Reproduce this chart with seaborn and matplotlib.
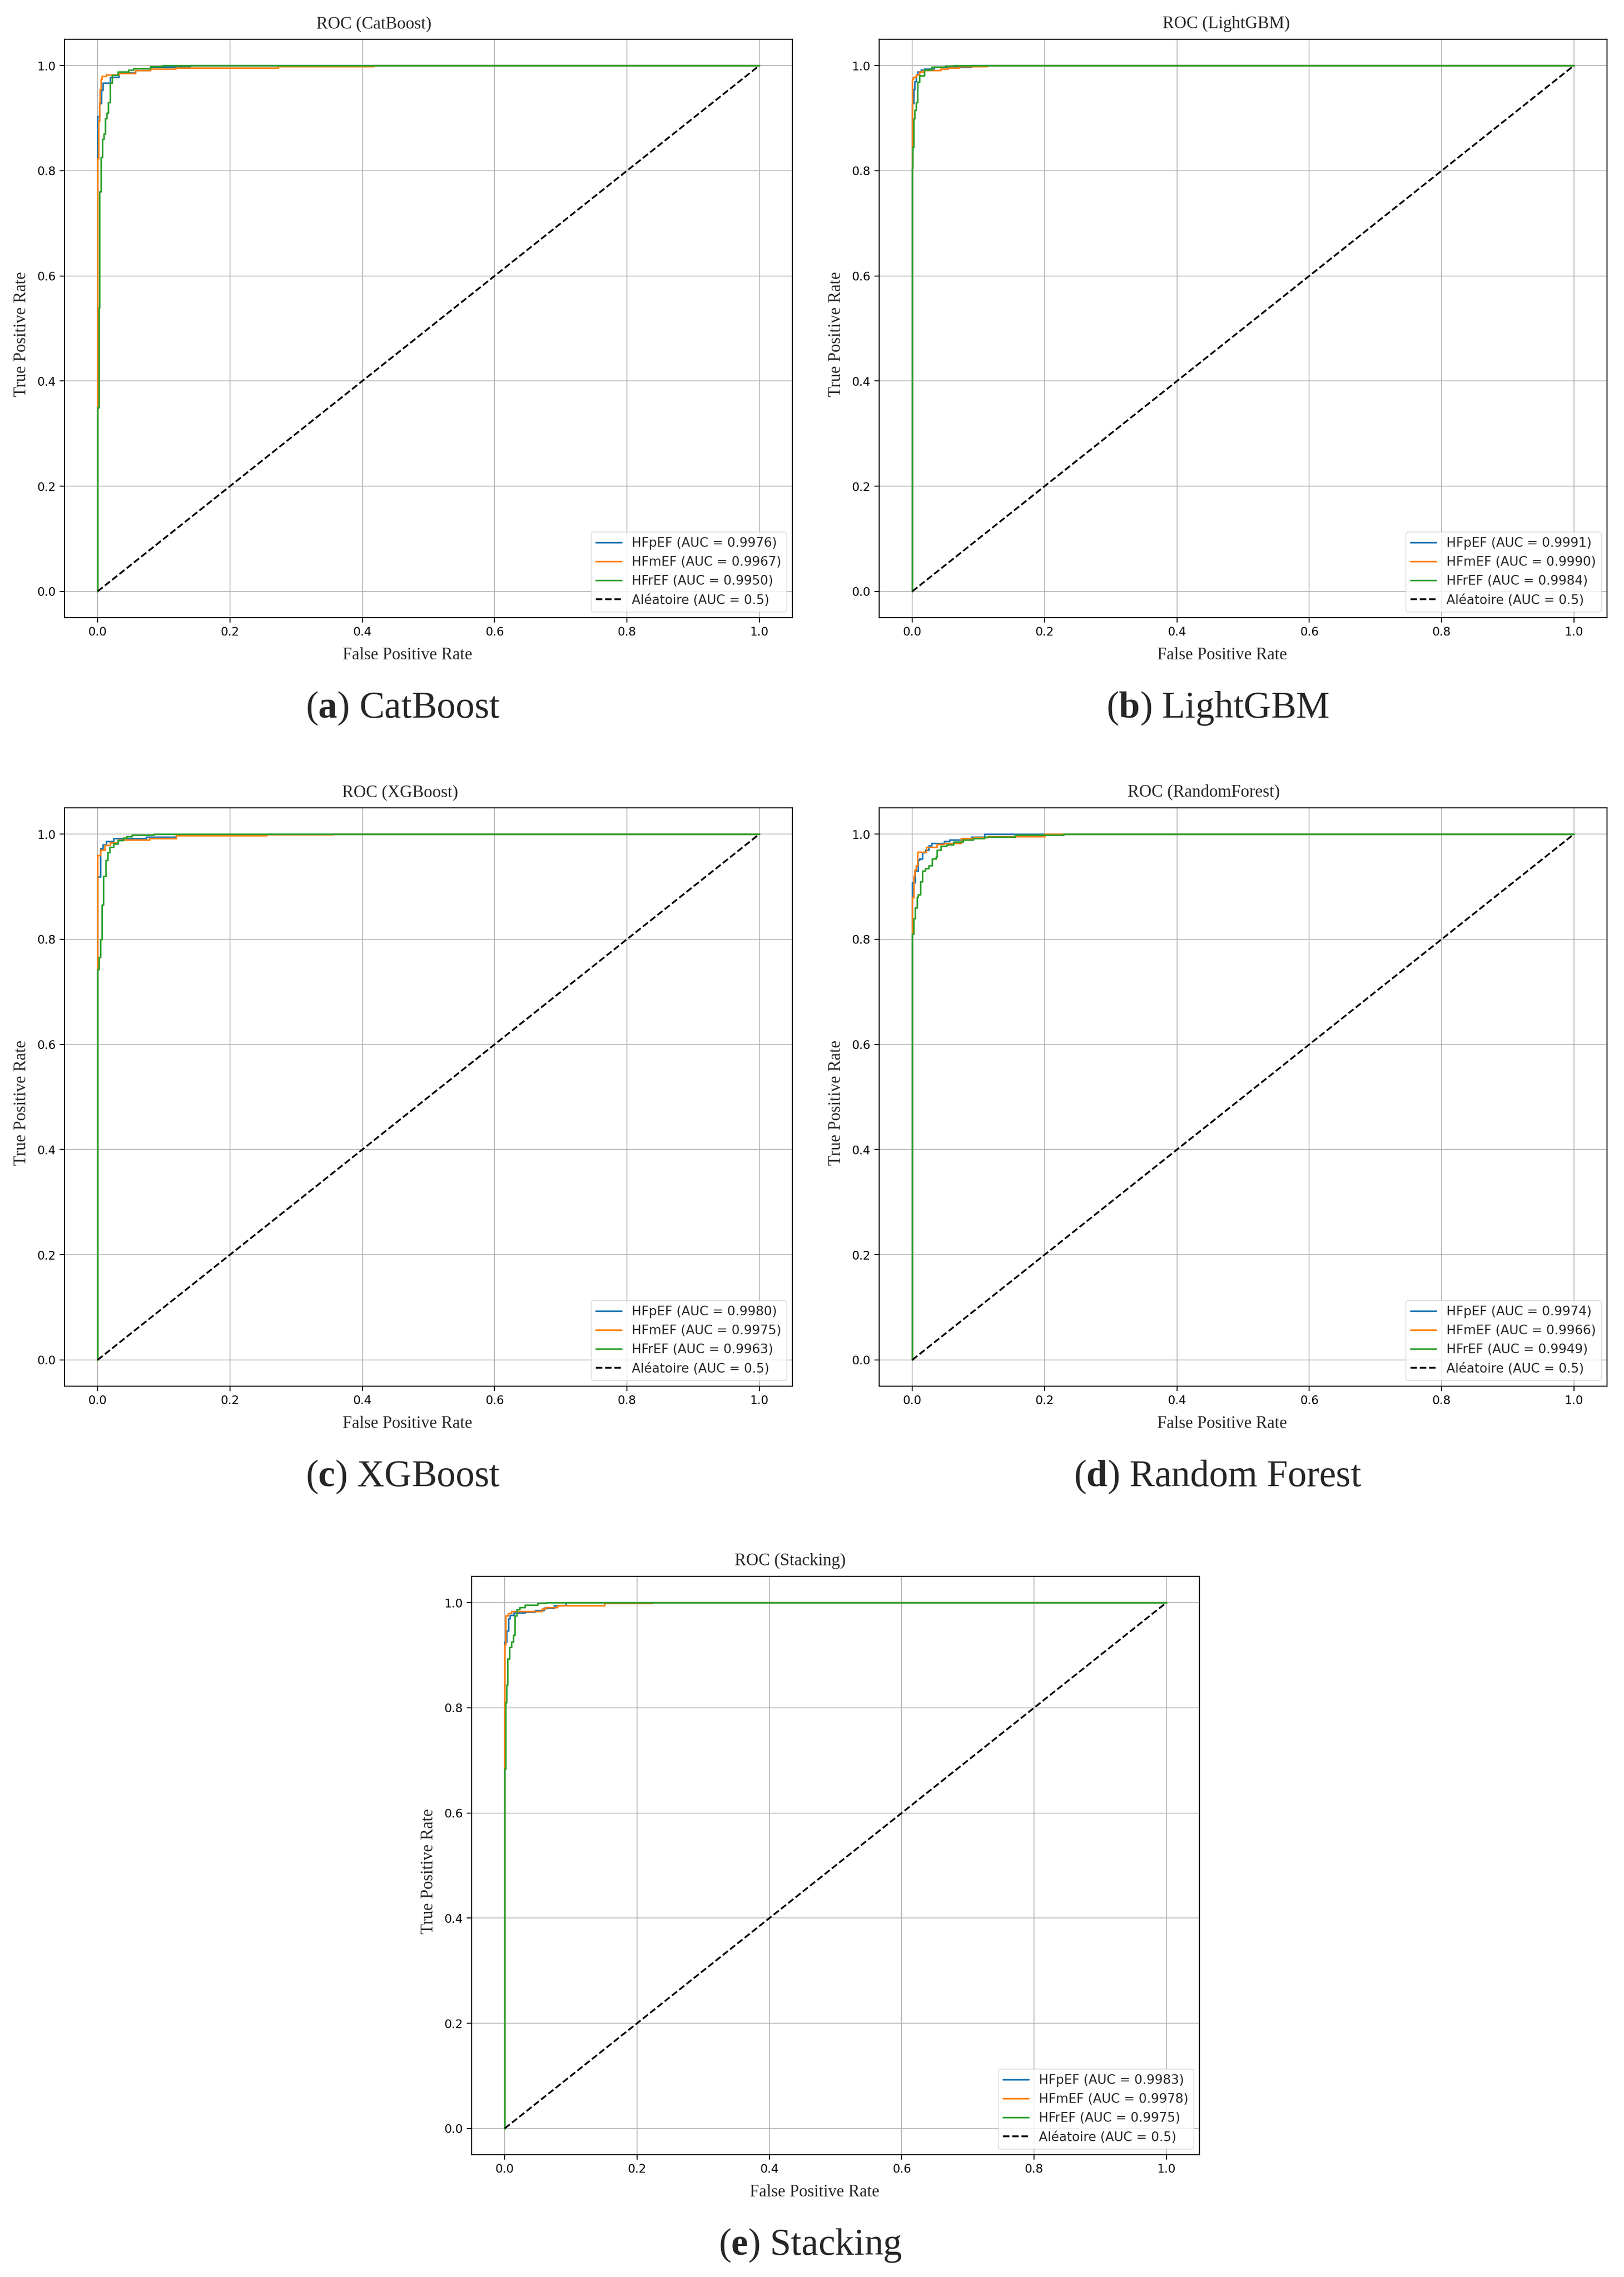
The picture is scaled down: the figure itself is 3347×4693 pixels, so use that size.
import matplotlib
matplotlib.use("Agg")
import matplotlib.pyplot as plt
import seaborn as sns
import pandas as pd

# ---------------- data ----------------
MODELS = ["CatBoost", "LightGBM", "XGBoost", "RandomForest", "Stacking"]
CAPTION_LETTERS = ["a", "b", "c", "d", "e"]
CAPTION_NAMES = ["CatBoost", "LightGBM", "XGBoost", "Random Forest", "Stacking"]
CLASSES = ["HFpEF", "HFmEF", "HFrEF"]

AUC_CATBOOST = [0.9976, 0.9967, 0.9950]
AUC_LIGHTGBM = [0.9991, 0.9990, 0.9984]
AUC_XGBOOST = [0.9980, 0.9975, 0.9963]
AUC_RF = [0.9974, 0.9966, 0.9949]
AUC_STACKING = [0.9983, 0.9978, 0.9975]

# ROC corner points (fpr, tpr): curve climbs to tpr at fpr, then runs flat
CAT_HFPEF_FPR = [0, 0, 0.003, 0.006, 0.0078, 0.019, 0.032, 0.057, 0.08, 0.14, 1.0]
CAT_HFPEF_TPR = [0, 0.903, 0.928, 0.953, 0.967, 0.978, 0.986, 0.991, 0.997, 1.0, 1.0]
CAT_HFMEF_FPR = [0, 0, 0.0012, 0.0025, 0.0034, 0.0049, 0.0066, 0.0127, 0.032, 0.057, 0.08, 0.118, 0.273, 0.417, 1.0]
CAT_HFMEF_TPR = [0, 0.823, 0.894, 0.93, 0.955, 0.974, 0.98, 0.983, 0.985, 0.991, 0.994, 0.996, 0.998, 1.0, 1.0]
CAT_HFREF_FPR = [0, 0, 0.002, 0.003, 0.005, 0.007, 0.0095, 0.0115, 0.014, 0.016, 0.019, 0.022, 0.031, 0.047, 0.054, 0.08, 0.098, 1.0]
CAT_HFREF_TPR = [0, 0.35, 0.54, 0.76, 0.826, 0.86, 0.87, 0.90, 0.91, 0.93, 0.967, 0.982, 0.988, 0.992, 0.995, 0.998, 1.0, 1.0]

LGB_HFPEF_FPR = [0, 0, 0.0017, 0.0037, 0.006, 0.008, 0.013, 0.018, 0.033, 0.089, 1.0]
LGB_HFPEF_TPR = [0, 0.928, 0.955, 0.97, 0.983, 0.988, 0.992, 0.994, 0.997, 1.0, 1.0]
LGB_HFMEF_FPR = [0, 0, 0.0012, 0.006, 0.011, 0.017, 0.043, 0.054, 0.071, 0.1125, 1.0]
LGB_HFMEF_TPR = [0, 0.974, 0.978, 0.983, 0.988, 0.991, 0.994, 0.996, 0.998, 1.0, 1.0]
LGB_HFREF_FPR = [0, 0, 0.0007, 0.0024, 0.0037, 0.006, 0.008, 0.0105, 0.018, 0.029, 0.05, 0.062, 1.0]
LGB_HFREF_TPR = [0, 0.805, 0.845, 0.9, 0.915, 0.93, 0.969, 0.981, 0.992, 0.997, 0.999, 1.0, 1.0]

XGB_HFPEF_FPR = [0, 0, 0.0046, 0.008, 0.013, 0.024, 0.073, 0.119, 0.255, 1.0]
XGB_HFPEF_TPR = [0, 0.919, 0.9725, 0.98, 0.986, 0.992, 0.995, 0.998, 1.0, 1.0]
XGB_HFMEF_FPR = [0, 0, 0.004, 0.011, 0.019, 0.031, 0.078, 0.119, 0.255, 0.356, 1.0]
XGB_HFMEF_TPR = [0, 0.96, 0.97, 0.979, 0.984, 0.989, 0.992, 0.997, 0.999, 1.0, 1.0]
XGB_HFREF_FPR = [0, 0, 0.002, 0.0046, 0.0067, 0.009, 0.012, 0.015, 0.0185, 0.024, 0.031, 0.039, 0.044, 0.052, 0.085, 1.0]
XGB_HFREF_TPR = [0, 0.743, 0.766, 0.80, 0.865, 0.92, 0.95, 0.965, 0.975, 0.982, 0.988, 0.993, 0.996, 0.998, 1.0, 1.0]

RF_HFPEF_FPR = [0, 0, 0.0045, 0.009, 0.011, 0.015, 0.02, 0.025, 0.0295, 0.048, 0.056, 0.0746, 0.089, 0.109, 1.0]
RF_HFPEF_TPR = [0, 0.908, 0.93, 0.95, 0.953, 0.965, 0.97, 0.978, 0.983, 0.986, 0.989, 0.992, 0.995, 1.0, 1.0]
RF_HFMEF_FPR = [0, 0, 0.0017, 0.0037, 0.0056, 0.008, 0.021, 0.037, 0.048, 0.074, 0.092, 0.114, 0.2, 1.0]
RF_HFMEF_TPR = [0, 0.879, 0.92, 0.932, 0.94, 0.966, 0.975, 0.981, 0.983, 0.992, 0.994, 0.996, 1.0, 1.0]
RF_HFREF_FPR = [0, 0, 0.002, 0.0045, 0.007, 0.009, 0.012, 0.015, 0.02, 0.025, 0.03, 0.036, 0.037, 0.043, 0.052, 0.062, 0.077, 0.092, 0.109, 0.155, 0.229, 1.0]
RF_HFREF_TPR = [0, 0.81, 0.84, 0.86, 0.88, 0.885, 0.91, 0.93, 0.935, 0.94, 0.953, 0.957, 0.97, 0.977, 0.98, 0.985, 0.989, 0.992, 0.995, 0.998, 1.0, 1.0]

STK_HFPEF_FPR = [0, 0, 0.003, 0.006, 0.008, 0.014, 0.031, 0.046, 0.059, 0.075, 0.092, 1.0]
STK_HFPEF_TPR = [0, 0.925, 0.947, 0.97, 0.976, 0.981, 0.983, 0.985, 0.99, 0.995, 1.0, 1.0]
STK_HFMEF_FPR = [0, 0, 0.0013, 0.005, 0.01, 0.0565, 0.0625, 0.08, 0.151, 0.223, 1.0]
STK_HFMEF_TPR = [0, 0.92, 0.975, 0.98, 0.984, 0.988, 0.991, 0.995, 0.999, 1.0, 1.0]
STK_HFREF_FPR = [0, 0, 0.0013, 0.003, 0.0046, 0.007, 0.01, 0.013, 0.0156, 0.0185, 0.0227, 0.031, 0.05, 0.063, 1.0]
STK_HFREF_TPR = [0, 0.684, 0.81, 0.843, 0.893, 0.915, 0.925, 0.938, 0.975, 0.987, 0.991, 0.996, 0.999, 1.0, 1.0]

RANDOM_FPR = [0.0, 1.0]
RANDOM_TPR = [0.0, 1.0]
RANDOM_LABEL = "Aléatoire (AUC = 0.5)"

PANELS = [
    (MODELS[0], AUC_CATBOOST, [(CAT_HFPEF_FPR, CAT_HFPEF_TPR), (CAT_HFMEF_FPR, CAT_HFMEF_TPR), (CAT_HFREF_FPR, CAT_HFREF_TPR)]),
    (MODELS[1], AUC_LIGHTGBM, [(LGB_HFPEF_FPR, LGB_HFPEF_TPR), (LGB_HFMEF_FPR, LGB_HFMEF_TPR), (LGB_HFREF_FPR, LGB_HFREF_TPR)]),
    (MODELS[2], AUC_XGBOOST, [(XGB_HFPEF_FPR, XGB_HFPEF_TPR), (XGB_HFMEF_FPR, XGB_HFMEF_TPR), (XGB_HFREF_FPR, XGB_HFREF_TPR)]),
    (MODELS[3], AUC_RF, [(RF_HFPEF_FPR, RF_HFPEF_TPR), (RF_HFMEF_FPR, RF_HFMEF_TPR), (RF_HFREF_FPR, RF_HFREF_TPR)]),
    (MODELS[4], AUC_STACKING, [(STK_HFPEF_FPR, STK_HFPEF_TPR), (STK_HFMEF_FPR, STK_HFMEF_TPR), (STK_HFREF_FPR, STK_HFREF_TPR)]),
]

# ---------------- styling / layout ----------------
W, H = 3347, 4693
DPI = 100
COLORS = ["#1f77b4", "#ff7f0e", "#2ca02c"]
SERIF = ["Liberation Serif", "DejaVu Serif"]
SANS = ["DejaVu Sans"]

sns.set_style("ticks")
plt.rcParams["font.family"] = SANS
plt.rcParams["mathtext.fontset"] = "custom"
plt.rcParams["mathtext.rm"] = "Liberation Serif"
plt.rcParams["mathtext.bf"] = "Liberation Serif:bold"

AX_W, AX_H = 1500, 1192
AX_BOX = [(133, 81), (1812, 81), (133, 1665), (1812, 1665), (972, 3249)]  # left, top in px
TITLE_XFRAC = [0.425, 0.477, 0.461, 0.446, 0.438]

fig = plt.figure(figsize=(W / DPI, H / DPI), dpi=DPI)
fig.patch.set_facecolor("white")

for i, (model, aucs, curves) in enumerate(PANELS):
    left, top = AX_BOX[i]
    ax = fig.add_axes([left / W, 1 - (top + AX_H) / H, AX_W / W, AX_H / H])
    ax.set_facecolor("white")
    for j, (fpr, tpr) in enumerate(curves):
        df = pd.DataFrame({"fpr": fpr, "tpr": tpr})
        sns.lineplot(data=df, x="fpr", y="tpr", ax=ax, sort=False, estimator=None,
                     drawstyle="steps-post", color=COLORS[j], linewidth=2.4,
                     label=f"{CLASSES[j]} (AUC = {aucs[j]:.4f})")
    dfr = pd.DataFrame({"fpr": RANDOM_FPR, "tpr": RANDOM_TPR})
    sns.lineplot(data=dfr, x="fpr", y="tpr", ax=ax, sort=False, estimator=None,
                 color="black", linestyle="--", linewidth=2.6, label=RANDOM_LABEL)

    ax.set_xlim(-0.05, 1.05)
    ax.set_ylim(-0.05, 1.05)
    ticks = [0.0, 0.2, 0.4, 0.6, 0.8, 1.0]
    ax.set_xticks(ticks)
    ax.set_yticks(ticks)
    ax.set_xticklabels([f"{t:.1f}" for t in ticks])
    ax.set_yticklabels([f"{t:.1f}" for t in ticks])
    ax.tick_params(labelsize=17.5, length=7, width=1.5, colors="black", pad=6)
    ax.grid(True, color="#b0b0b0", linewidth=1.2)
    for sp in ax.spines.values():
        sp.set_visible(True)
        sp.set_linewidth(1.6)
        sp.set_color("black")

    ax.set_xlabel("False Positive Rate", fontsize=25, family=SERIF)
    ax.set_ylabel("True Positive Rate", fontsize=25, family=SERIF)
    ax.xaxis.set_label_coords(0.471, -0.051)
    ax.yaxis.set_label_coords(-0.048, 0.49)
    ax.set_title(f"ROC ({model})", fontsize=25.5, family=SERIF, x=TITLE_XFRAC[i], y=1.012)

    ax.legend(loc="lower right", fontsize=19, borderaxespad=0.45,
              handlelength=2.0, framealpha=0.8, edgecolor="#cccccc")

    cx = left + AX_W / 2 - 52
    cy = top + AX_H + 187
    fig.text(cx / W, 1 - cy / H, rf"($\mathbf{{{CAPTION_LETTERS[i]}}}$) {CAPTION_NAMES[i]}",
             ha="center", va="center", fontsize=56, family=SERIF)

fig.savefig("out.png", dpi=DPI, facecolor="white")
